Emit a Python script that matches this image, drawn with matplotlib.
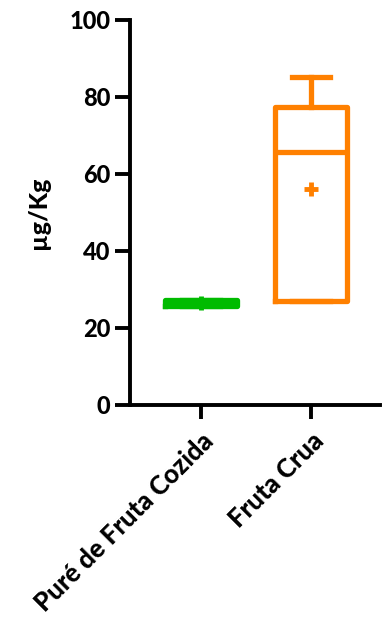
import matplotlib
matplotlib.use("Agg")
import matplotlib.pyplot as plt

plt.rcParams['font.family'] = ['Lato', 'DejaVu Sans']
plt.rcParams['font.weight'] = 'black'

groups = ["Puré de Fruta Cozida", "Fruta Crua"]
colors = ["#00bb00", "#ff8000"]
whislo = [25.6, 27.0]
q1 = [25.6, 27.0]
med = [26.4, 65.8]
q3 = [27.2, 77.4]
whishi = [27.2, 85.3]
mean = [26.4, 56.1]
yticks = [0, 20, 40, 60, 80, 100]

stats = []
for i in range(len(groups)):
    stats.append(dict(label=groups[i], whislo=whislo[i], q1=q1[i], med=med[i],
                      q3=q3[i], whishi=whishi[i], mean=mean[i], fliers=[]))

fig = plt.figure(figsize=(3.82, 6.24), dpi=100)
ax = fig.add_axes([0.340, 0.351, 0.655, 0.617])

lw = 3.8
for i, s in enumerate(stats):
    c = colors[i]
    ax.bxp([s], positions=[i], widths=0.66, showmeans=True, showfliers=False,
           boxprops=dict(color=c, linewidth=lw),
           medianprops=dict(color=c, linewidth=lw, solid_capstyle='butt'),
           whiskerprops=dict(color=c, linewidth=lw),
           capprops=dict(color=c, linewidth=lw),
           meanprops=dict(marker='+', markeredgecolor=c, markersize=10,
                          markeredgewidth=3.5),
           capwidths=0.34)

ax.set_xlim(-0.645, 1.627)
ax.set_ylim(0, 100)
ax.set_yticks(yticks)
ax.set_xticks([0, 1])
ax.set_xticklabels(groups, rotation=45, ha='right', rotation_mode='anchor',
                   fontsize=18.5, fontweight='black')
ax.tick_params(axis='y', labelsize=17, width=2.8, length=11, pad=3)
ax.tick_params(axis='x', width=2.8, length=10, pad=7)
for lab in ax.get_yticklabels():
    lab.set_fontweight('black')
ax.spines['top'].set_visible(False)
ax.spines['right'].set_visible(False)
ax.spines['left'].set_linewidth(2.8)
ax.spines['bottom'].set_linewidth(2.8)
ax.set_ylabel("µg/Kg", fontsize=18, fontweight='black', labelpad=14)

fig.savefig("out.png", dpi=100)
